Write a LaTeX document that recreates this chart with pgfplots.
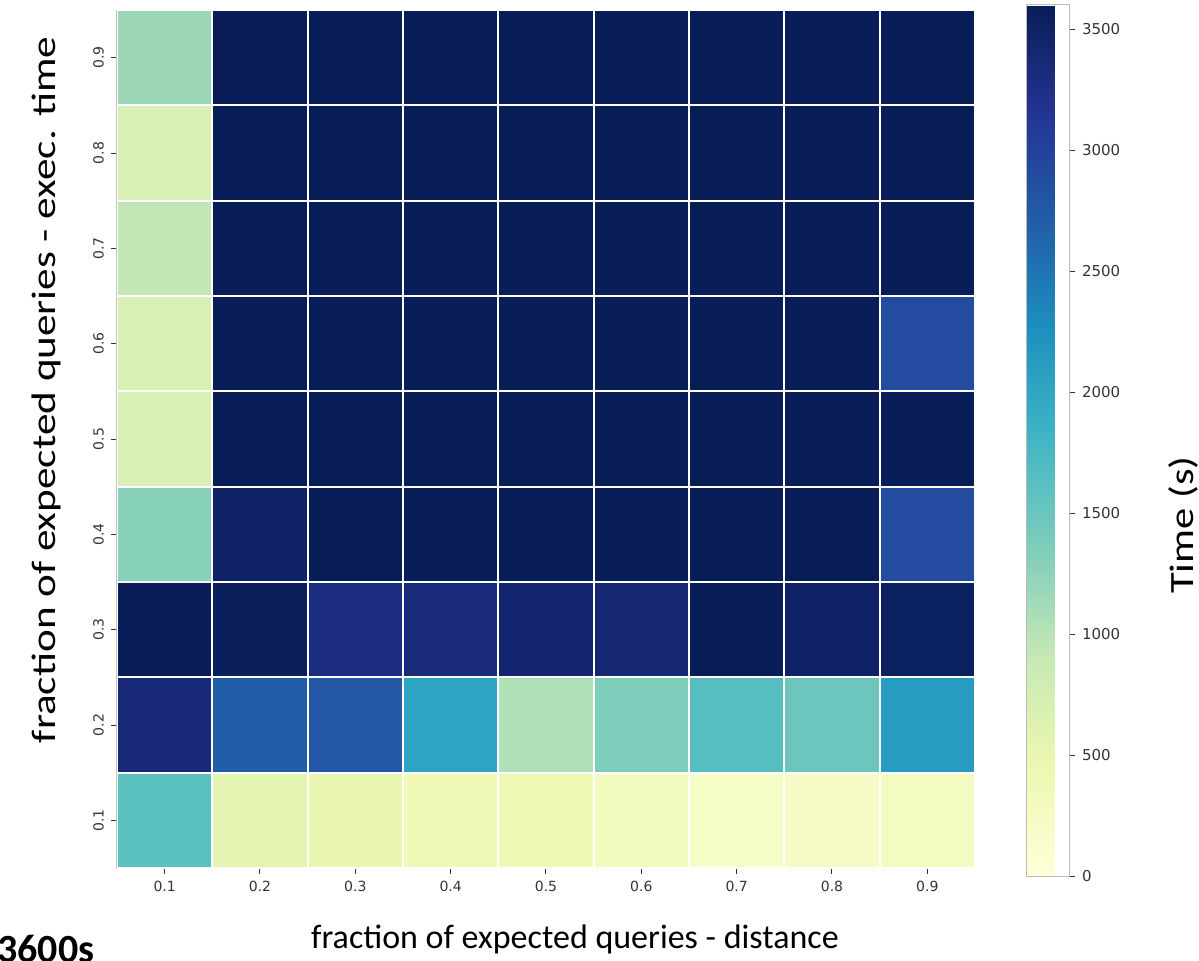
\documentclass[border=0pt]{standalone}
\usepackage{pgfplots}
\pgfplotsset{compat=1.18}
\usepackage{fontspec}
\setmainfont{DejaVu Sans}
\newfontfamily\calfont{Carlito}
\definecolor{tickgray}{HTML}{333333}
\definecolor{framegray}{HTML}{BBBBBB}
\pgfplotsset{colormap={ylgnbu}{rgb255=(255,255,217) rgb255=(237,248,177) rgb255=(199,233,180) rgb255=(127,205,187) rgb255=(65,182,196) rgb255=(29,145,192) rgb255=(34,94,168) rgb255=(37,52,148) rgb255=(8,29,88)}}
\begin{document}
\begin{tikzpicture}
\begin{axis}[
  at={(0pt,0pt)}, anchor=south west,
  width=429pt, height=429pt, scale only axis,
  xmin=0.5, xmax=9.5, ymin=0.5, ymax=9.5,
  xtick={1,...,9}, ytick={1,...,9},
  xticklabels={0.1,0.2,0.3,0.4,0.5,0.6,0.7,0.8,0.9},
  yticklabels={0.1,0.2,0.3,0.4,0.5,0.6,0.7,0.8,0.9},
  xtick pos=bottom, ytick pos=left,
  tick align=outside, major tick length=3pt,
  every tick/.style={tickgray, line width=0.5pt},
  tick label style={font=\fontsize{7}{8}\selectfont, text=tickgray},
  yticklabel style={rotate=90, anchor=south},
  axis line style={framegray, line width=0.5pt},
  colormap name=ylgnbu,
  point meta min=0, point meta max=3600,
  colorbar,
  colorbar style={
    at={(parent axis.south east)}, anchor=south west,
    xshift=17pt, yshift=-4pt,
    width=21.5pt, height=435.5pt,
    ytick={0,500,...,3500},
    yticklabel pos=right,
    ytick pos=right,
    tick align=outside, major tick length=3pt,
    every tick/.style={tickgray, line width=0.5pt},
    yticklabel style={font=\fontsize{7.5}{8}\selectfont, text=tickgray, /pgf/number format/1000 sep={}, /pgf/number format/assume math mode=true},
    axis line style={framegray, line width=0.5pt},
  },
]
\addplot[matrix plot*, mesh/cols=9, point meta=explicit, draw=white, line width=1.1pt] table[meta=c] {
x y c
1 1 1610
2 1 555
3 1 510
4 1 360
5 1 405
6 1 315
7 1 215
8 1 225
9 1 270
1 2 3380
2 2 2700
3 2 2780
4 2 2030
5 2 1045
6 2 1350
7 2 1650
8 2 1490
9 2 2130
1 3 3600
2 3 3570
3 3 3290
4 3 3330
5 3 3420
6 3 3400
7 3 3600
8 3 3500
9 3 3550
1 4 1300
2 4 3500
3 4 3600
4 4 3600
5 4 3600
6 4 3600
7 4 3600
8 4 3600
9 4 2900
1 5 700
2 5 3600
3 5 3600
4 5 3600
5 5 3600
6 5 3600
7 5 3600
8 5 3600
9 5 3600
1 6 700
2 6 3600
3 6 3600
4 6 3600
5 6 3600
6 6 3600
7 6 3600
8 6 3600
9 6 2900
1 7 930
2 7 3600
3 7 3600
4 7 3600
5 7 3600
6 7 3600
7 7 3600
8 7 3600
9 7 3600
1 8 700
2 8 3600
3 8 3600
4 8 3600
5 8 3600
6 8 3600
7 8 3600
8 8 3600
9 8 3600
1 9 1170
2 9 3600
3 9 3600
4 9 3600
5 9 3600
6 9 3600
7 9 3600
8 9 3600
9 9 3600
};
\end{axis}
\node[anchor=base, font=\calfont\fontsize{17}{20}\selectfont] at (229pt,-40pt) {fraction of expected queries - distance};
\node[rotate=90, font=\calfont\fontsize{17}{20}\selectfont] at (-35.5pt,239pt) {\scalebox{1.27}[1]{fraction of expected queries - exec. time}};
\node[rotate=90, font=\calfont\fontsize{17}{20}\selectfont] at (533pt,171.5pt) {\scalebox{1.25}[1]{Time (s)}};
\node[anchor=base west, font=\calfont\bfseries\fontsize{20}{24}\selectfont, inner sep=0pt] at (-60pt,-47pt) {3600s};
\pgfresetboundingbox
\useasboundingbox (-58.5pt,-46pt) rectangle (541pt,434pt);
\end{tikzpicture}
\end{document}
